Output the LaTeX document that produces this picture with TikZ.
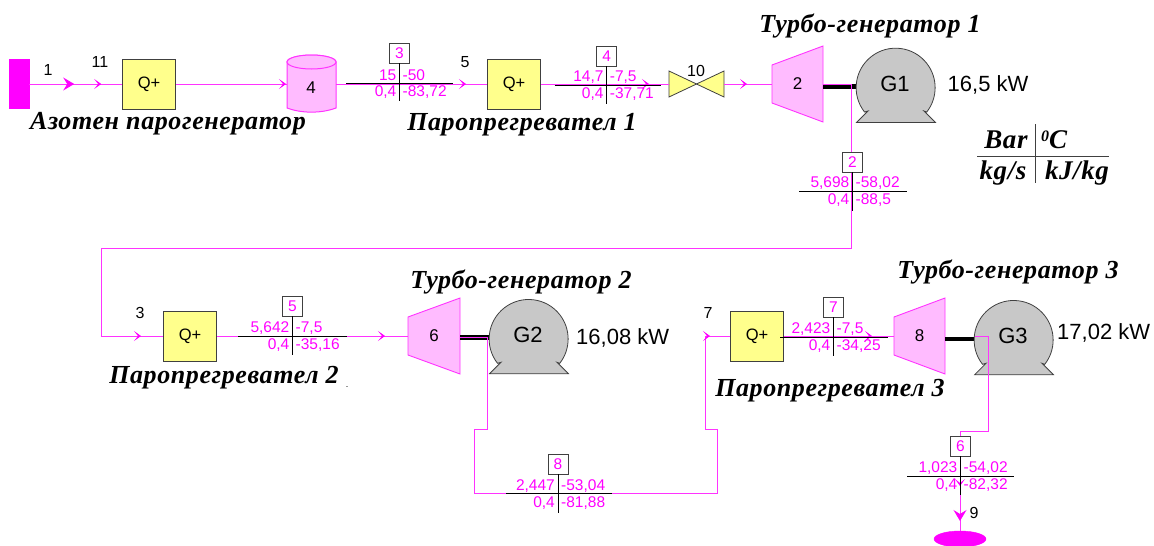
\documentclass[tikz,border=0pt]{standalone}
\usepackage{fontspec}
\setmainfont{Liberation Sans}
\newfontfamily\titlefont{Liberation Serif Bold Italic}[LetterSpace=2.3]
\usetikzlibrary{arrows.meta,decorations.markings,shapes.geometric}
\definecolor{flowm}{HTML}{FF33FF}
\definecolor{strm}{HTML}{FF00FF}
\definecolor{pinkf}{HTML}{FFBBFF}
\definecolor{yelf}{HTML}{FFFF8C}
\definecolor{grayf}{HTML}{C8C8C8}
\definecolor{edge}{HTML}{404040}
\tikzset{
  x=1pt,y=-1pt,
  flow/.style={draw=flowm,line width=.9pt},
  chev/.style={postaction={decorate,decoration={markings,mark=at position #1pt with {\arrow[strm]{Stealth[length=7pt,width=10pt,inset=4pt]}}}}},
  bigchev/.style={postaction={decorate,decoration={markings,mark=at position #1pt with {\arrow[strm]{Stealth[length=11pt,width=13pt,inset=4pt]}}}}},
  qbox/.style={draw=edge,line width=1pt,fill=yelf,minimum width=53pt,minimum height=50pt,inner sep=0pt,font=\fontsize{16.5}{16.5}\selectfont},
  lab/.style={inner sep=0pt,font=\fontsize{16}{16}\selectfont},
  gentext/.style={inner sep=0pt,font=\fontsize{22}{22}\selectfont},
  title/.style={inner sep=0pt,font=\titlefont\fontsize{26}{26}\selectfont},
  tabtext/.style={inner sep=0pt,font=\titlefont\fontsize{27}{27}\selectfont},
  num/.style={inner sep=0pt,text=strm,font=\fontsize{15.5}{15.5}\selectfont},
  tagbox/.style={draw=edge,line width=.9pt,fill=white,minimum width=20pt,minimum height=20pt,inner sep=0pt,text=strm,font=\fontsize{15.5}{15.5}\selectfont},
  rule/.style={draw=black,line width=.9pt},
  turb/.style={draw=flowm,line width=.9pt,fill=pinkf},
  gen/.style={draw=edge,line width=.8pt,fill=grayf},
}
% #1 name, #2 left x, #3 y, #4 width
\newcommand\turbine[4]{%
  \path[turb] (#2,#3-19) -- (#2+#4,#3-38) -- (#2+#4,#3+38) -- (#2,#3+19) -- cycle;
  \coordinate (#1in) at (#2,#3);
  \coordinate (#1out) at (#2+#4,#3);
  \node[lab] (#1) at (#2+#4/2,#3) {\fontsize{17}{17}\selectfont #1};}
% #1 name, #2 circle centre x, #3 circle centre y, #4 label
\newcommand\generator[4]{%
  \path[gen] (#2-39.5,#3+34.5) -- (#2-28,#3+23) -- (#2-31.5,#3+24) arc[start angle=142,end angle=398,radius=39.5] -- (#2+28,#3+23) -- (#2+39.5,#3+34.5) -- cycle;
  \node[gentext] (#1) at (#2-1,#3-4) {#4};}
% #1 id, #2 vx, #3 hy, #4 box top, #5 xl, #6 xr, #7 v bottom, #8 values
\newcommand\stream[8]{%
  \node[tagbox] (tag#1) at (#2,#4+10) {#1};
  \coordinate (vb#1) at (#2,#7);
  \coordinate (hl#1) at (#5,#3);
  \coordinate (hr#1) at (#6,#3);
  \draw[rule] (hl#1) -- (hr#1);
  \draw[rule] (tag#1.south) -- (vb#1);
  \streamvalues{#1}{#2}{#3}#8}
\newcommand\streamvalues[7]{%
  \node[num,anchor=east] (tl#1) at (#2-3,#3-7.5) {#4};
  \node[num,anchor=west] (tr#1) at (#2+3,#3-7.5) {#5};
  \node[num,anchor=east] (bl#1) at (#2-3,#3+9.5) {#6};
  \node[num,anchor=west] (br#1) at (#2+3,#3+9.5) {#7};}
\begin{document}
\begin{tikzpicture}
\useasboundingbox (0,0) rectangle (1154,546);
% equipment
\node[draw=strm,fill=strm,minimum width=20pt,minimum height=49pt,inner sep=0pt] (src) at (19,84) {};
\node[qbox] (q1) at (149,84) {Q+};
\node[qbox] (q2) at (514,84) {Q+};
\node[qbox] (q3) at (190,336) {Q+};
\node[qbox] (q4) at (757,336) {Q+};
% tank
\path[draw=flowm,line width=1pt,fill=pinkf] (287,62) arc[start angle=180,end angle=360,x radius=24.5,y radius=7] -- (336,108) .. controls (320,114) and (300,113) .. (287,108) -- cycle;
\path[draw=flowm,line width=1pt,fill=pinkf] (311.5,62) ellipse[x radius=24.5,y radius=7];
\coordinate (tankin) at (287,84);
\coordinate (tankout) at (336,84);
\node[lab] (tank) at (311,88) {\fontsize{17}{17}\selectfont 4};
% valve
\coordinate (vc) at (696.5,84);
\path[draw=edge,line width=.8pt,fill=yelf] (vc) -- (669,71) -- (669,97) -- cycle;
\path[draw=edge,line width=.8pt,fill=yelf] (vc) -- (724,71) -- (724,97) -- cycle;
\coordinate (vin) at (669,84);
\coordinate (vout) at (724,84);
% turbines and generators
\turbine{2}{772}{84}{51}
\turbine{6}{408}{336}{52}
\turbine{8}{894}{336}{51}
\coordinate (s1) at (858,86);
\coordinate (s2) at (490,337);
\coordinate (s3) at (975,339);
\draw[black,line width=5pt] (823,86) -- (s1);
\draw[black,line width=5pt] (6out) ++(0,1) -- (s2);
\draw[black,line width=4.5pt] (8out) ++(0,3) -- (s3);
\generator{g1}{896}{88}{G1}
\generator{g2}{529}{339.3}{G2}
\generator{g3}{1014}{340.3}{G3}
% flow lines
\coordinate (e1a) at (823,84);
\coordinate (e1m) at (851,84);
\coordinate (e1b) at (851,248);
\coordinate (e1c) at (101,248);
\coordinate (e1d) at (101,336);
\coordinate (e2a) at (460,337);
\coordinate (e2b) at (487,337);
\coordinate (e2c) at (487,429);
\coordinate (e2d) at (474,429);
\coordinate (e2e) at (474,493);
\coordinate (e2f) at (717,493);
\coordinate (e2g) at (717,429);
\coordinate (e2h) at (705,429);
\coordinate (e2i) at (705,336);
\coordinate (e3a) at (975,336);
\coordinate (e3b) at (988,336);
\coordinate (e3c) at (988,431);
\coordinate (e3d) at (960,431);
\node[draw=strm,fill=strm,ellipse,minimum width=52pt,minimum height=16pt,inner sep=0pt] (snk) at (960,539) {};
\path[flow,bigchev=45,chev=72] (src.east) -- (q1.west);
\path[flow,chev=110] (q1.east) -- (tankin);
\path[flow,chev=130] (tankout) -- (q2.west);
\path[flow,chev=108] (q2.east) -- (vin);
\path[flow,chev=23] (vout) -- (2in);
\path[flow] (e1a) -- (e1m) -- (e1b) -- (e1c) -- (e1d) -- (q3.west);
\path[flow,chev=40] (e1d) -- (q3.west);
\path[flow,chev=168] (q3.east) -- (6in);
\path[flow] (e2a) -- (e2b) -- (e2c) -- (e2d) -- (e2e) -- (e2f) -- (e2g) -- (e2h) -- (e2i) -- (q4.west);
\path[flow,chev=5] (e2i) -- (q4.west);
\path[flow,chev=88] (q4.east) -- (8in);
\path[flow] (e3a) -- (e3b) -- (e3c) -- (e3d) -- (snk.north);
\path[flow,bigchev=90,chev=55] (e3d) -- (snk.north);
% stream tables
\stream{3}{399.5}{83}{43}{346}{453}{101}{{15}{-50}{0,4}{-83,72}}
\stream{4}{606.7}{85}{46}{554.6}{661}{104}{{14,7}{-7,5}{0,4}{-37,71}}
\stream{2}{852.5}{191}{152}{799}{907}{211}{{5,698}{-58,02}{0,4}{-88,5}}
\stream{5}{292.5}{336}{296}{238}{347}{355}{{5,642}{-7,5}{0,4}{-35,16}}
\stream{8}{558}{493.5}{454}{506}{612}{513}{{2,447}{-53,04}{0,4}{-81,88}}
\stream{7}{833.5}{337}{297}{780}{888}{356}{{2,423}{-7,5}{0,4}{-34,25}}
\stream{6}{960.5}{476}{436}{907}{1014}{495}{{1,023}{-54,02}{0,4}{-82,32}}
% labels
\node[lab] (n1) at (48,70) {1};
\node[lab] (n11) at (100,62) {11};
\node[lab] (n5) at (465,62) {5};
\node[lab] (n10) at (696,71) {10};
\node[lab] (n3) at (140,313) {3};
\node[lab] (n7) at (708,313) {7};
\node[lab] (n9) at (974,513) {9};
\node[gentext,anchor=west] (p1) at (947.5,85) {16,5 kW};
\node[gentext,anchor=west] (p2) at (576,338) {16,08 kW};
\node[gentext,anchor=west] (p3) at (1057,333) {17,02 kW};
% titles
\node[title] (t1) at (168,124) {Азотен парогенератор};
\node[title] (t2) at (522,125) {Паропрегревател 1};
\node[title] (t3) at (870,26) {Турбо-генератор 1};
\node[title] (t4) at (224,378) {Паропрегревател 2};
\node[inner sep=0pt,font=\fontsize{9}{9}\selectfont] (t4dot) at (347,387) {.};
\node[title] (t5) at (521,282) {Турбо-генератор 2};
\node[title] (t6) at (830,391) {Паропрегревател 3};
\node[title] (t7) at (1008,272) {Турбо-генератор 3};
% key table
\coordinate (ka) at (977,156);
\coordinate (kb) at (1109,156);
\coordinate (kc) at (1035.5,124);
\coordinate (kd) at (1035.5,182.5);
\draw[edge,line width=1pt] (ka) -- (kb);
\draw[edge,line width=1pt] (kc) -- (kd);
\node[tabtext] (k1) at (1006,140) {Bar};
\node[tabtext] (k2) at (1054,140) {\raisebox{7pt}{\fontsize{16}{16}\selectfont 0}C};
\node[tabtext] (k3) at (1003,173) {kg/s};
\node[tabtext] (k4) at (1077,173) {kJ/kg};
\end{tikzpicture}
\end{document}
